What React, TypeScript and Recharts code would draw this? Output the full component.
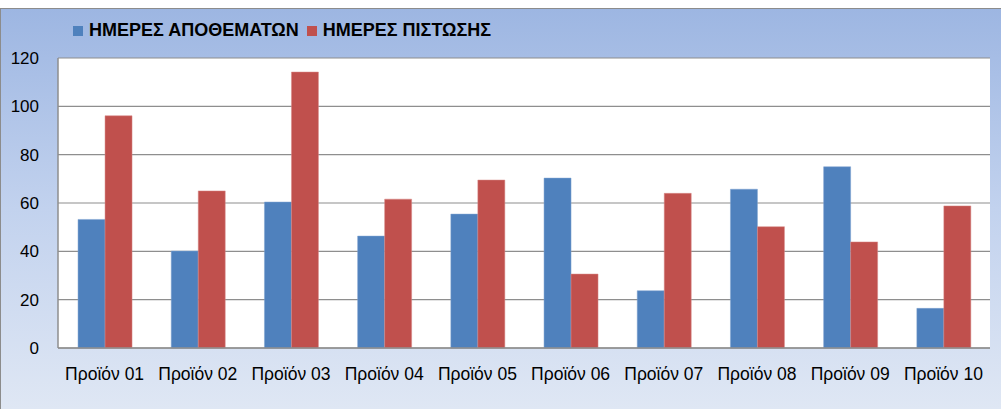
import { BarChart, Bar, XAxis, YAxis, CartesianGrid } from 'recharts'

const products = [
  'Προϊόν 01', 'Προϊόν 02', 'Προϊόν 03', 'Προϊόν 04', 'Προϊόν 05',
  'Προϊόν 06', 'Προϊόν 07', 'Προϊόν 08', 'Προϊόν 09', 'Προϊόν 10',
]
const stockDays = [53.2, 40.1, 60.4, 46.3, 55.4, 70.3, 23.7, 65.7, 75, 16.4]
const creditDays = [96.1, 65, 114.2, 61.6, 69.5, 30.6, 64, 50.2, 43.9, 58.8]
const yTicks = [0, 20, 40, 60, 80, 100, 120]

const BLUE = '#4f81bd'
const RED = '#c0504d'
const FONT = '"Liberation Sans", Arial, sans-serif'

const data = products.map((name, i) => ({
  name,
  stock: stockDays[i],
  credit: creditDays[i],
}))

function LegendBox() {
  const item = (color: string, label: string) => (
    <div style={{ display: 'flex', alignItems: 'center', marginRight: 8 }}>
      <span style={{ width: 10, height: 10, background: color, marginRight: 6, display: 'inline-block' }} />
      <span style={{ fontWeight: 'bold', fontSize: 18 }}>{label}</span>
    </div>
  )
  return (
    <div style={{ position: 'absolute', left: 72, top: 11, display: 'flex', fontFamily: FONT, color: '#000' }}>
      {item(BLUE, 'ΗΜΕΡΕΣ ΑΠΟΘΕΜΑΤΩΝ')}
      {item(RED, 'ΗΜΕΡΕΣ ΠΙΣΤΩΣΗΣ')}
    </div>
  )
}

export default function App() {
  return (
    <div style={{ position: 'fixed', left: 0, top: 0, width: 1001, height: 409, background: '#fff' }}>
      <div
        style={{
          position: 'absolute',
          left: 0,
          top: 8,
          width: 1001,
          height: 401,
          boxSizing: 'border-box',
          borderTop: '1px solid #8c8c8c',
          borderLeft: '1px solid #8c8c8c',
          background: 'linear-gradient(to bottom, #9db6e2 0%, #c2d2ee 50%, #dfe7f4 100%)',
        }}
      >
        <LegendBox />
        <div style={{ position: 'absolute', left: -1, top: -1 }}>
          <BarChart
            width={1001}
            height={401}
            data={data}
            margin={{ top: 50, right: 11, bottom: 0, left: 0 }}
            barCategoryGap="21.5%"
            barGap={0}
          >
            <CartesianGrid vertical={false} fill="#ffffff" stroke="#8e8e8e" strokeWidth={1.2} />
            <XAxis
              dataKey="name"
              height={61}
              tickLine={false}
              axisLine={{ stroke: '#8e8e8e', strokeWidth: 1.5 }}
              tick={{ fill: '#000', fontSize: 17.5, fontFamily: FONT }}
              tickMargin={14}
              interval={0}
            />
            <YAxis
              width={58}
              domain={[0, 120]}
              ticks={yTicks}
              tickLine={false}
              axisLine={{ stroke: '#8e8e8e', strokeWidth: 1.5 }}
              tick={{ fill: '#000', fontSize: 17, fontFamily: FONT }}
              tickMargin={13}
            />
            <Bar dataKey="stock" fill={BLUE} stroke="#7fa3d0" strokeWidth={0.5} isAnimationActive={false} />
            <Bar dataKey="credit" fill={RED} stroke="#d98a88" strokeWidth={0.5} isAnimationActive={false} />
          </BarChart>
        </div>
      </div>
    </div>
  )
}
